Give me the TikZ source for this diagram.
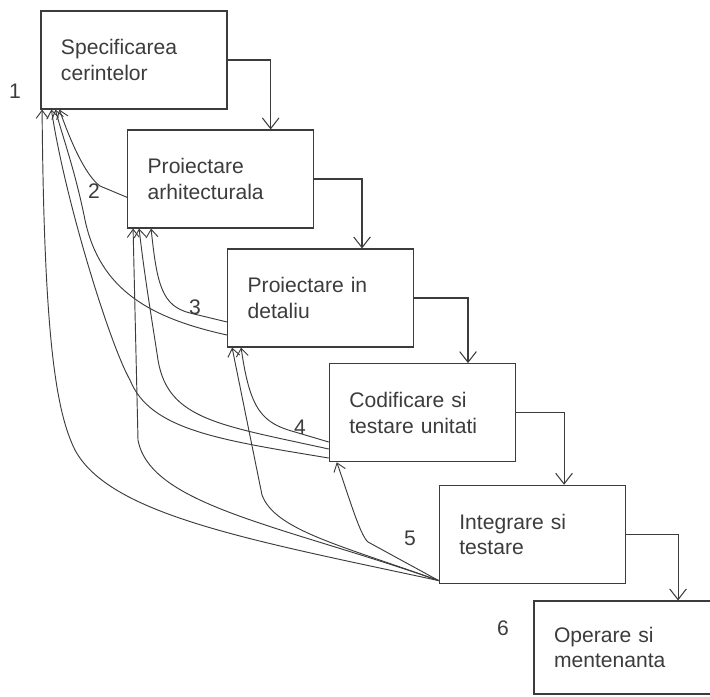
\documentclass[tikz,border=0pt]{standalone}
\usepackage{fontspec}
\setmainfont{Liberation Sans}
\usetikzlibrary{arrows.meta}
\definecolor{inkgray}{HTML}{3C3C3C}

\begin{document}
\begin{tikzpicture}[
            x=0.03cm, y=-0.03cm,
            node distance=3.57cm,
            box/.style={rectangle, draw=inkgray, line width=1pt,
                        minimum width=5.58cm, minimum height=2.94cm,
                        text width=4.38cm, inner xsep=0.6cm, align=left,
                        text=inkgray, font=\fontsize{18}{22}\selectfont},
            num/.style={text=inkgray, font=\fontsize{18}{22}\selectfont},
            arrow/.style={-{Straight Barb[length=3.2mm, width=5mm]}, line width=0.9pt, color=inkgray},
            back/.style={-{Straight Barb[length=2.4mm, width=3.6mm]}, line width=0.8pt, color=inkgray}
        ]
            \useasboundingbox (0,0) rectangle (710,696);
            \clip (0,0) rectangle (710,696);

            \node[box] (spec) at (134,60) {Specificarea\\cerintelor};
            \node[box, below of=spec, xshift=2.6cm] (arch) {Proiectare\\arhitecturala};
            \node[box, below of=arch, xshift=3cm] (detail) {Proiectare in\\detaliu};
            \node[box, below of=detail, xshift=3.05cm, yshift=0.13cm] (code) {Codificare si\\testare unitati};
            \node[box, below of=code, xshift=3.3cm, yshift=-0.08cm] (integ) {Integrare si\\testare};
            \node[box, below of=integ, xshift=3.3cm, yshift=0.175cm, minimum width=6.5cm,
                  text width=5.3cm, minimum height=2.79cm] (oper) {Operare si\\mentenanta};

            \node[num] (n1) at (15,91) {1};
            \node[num] (n2) at (94,191) {2};
            \node[num] (n3) at (195,307) {3};
            \node[num] (n4) at (300,427) {4};
            \node[num] (n5) at (410,538) {5};
            \node[num] (n6) at (503,628) {6};

            \draw[arrow] (spec.east) -| ([xshift=1.5cm]arch.north);
            \draw[arrow] (arch.east) -| ([xshift=1.24cm]detail.north);
            \draw[arrow] (detail.east) -| ([xshift=1.37cm]code.north);
            \draw[arrow] (code.east) -| ([xshift=0.95cm]integ.north);
            \draw[arrow] (integ.east) -| ([xshift=1.07cm]oper.north);

            \draw[back] ([yshift=-0.55cm]arch.west) -- (100,186) .. controls (85,175) and (70,140) .. ([xshift=0.57cm]spec.south west);
            \draw[back] ([yshift=-0.72cm]detail.west) -- (190,313) .. controls (162,306) and (157,285) .. ([xshift=0.72cm]arch.south west);
            \draw[back] ([yshift=-1.11cm]detail.west) .. controls (150,318) and (100,290) .. (85,220) .. controls (75,170) and (62,135) .. ([xshift=0.45cm]spec.south west);
            \draw[back] ([yshift=-0.88cm]code.west) -- (295,432) .. controls (262,423) and (250,410) .. ([xshift=0.42cm]detail.south west);
            \draw[back] ([yshift=-1.09cm]code.west) .. controls (220,425) and (168,420) .. (158,360) .. controls (152,320) and (145,280) .. ([xshift=0.36cm]arch.south west);
            \draw[back] ([yshift=-1.36cm]code.west) .. controls (220,440) and (150,430) .. (130,380) .. controls (110,345) and (65,200) .. ([xshift=0.33cm]spec.south west);
            \draw[back] ([yshift=0.1cm]integ.south west) -- (368,542) .. controls (360,535) and (350,500) .. ([xshift=0.24cm]code.south west);
            \draw[back] ([yshift=0.1cm]integ.south west) .. controls (340,545) and (275,530) .. (262,495) -- ([xshift=0.15cm]detail.south west);
            \draw[back] ([yshift=0.1cm]integ.south west) .. controls (280,525) and (150,505) .. (138,440) -- ([xshift=0.18cm]arch.south west);
            \draw[back] ([yshift=0.1cm]integ.south west) .. controls (250,540) and (110,515) .. (75,450) .. controls (55,410) and (44,330) .. ([xshift=0.05cm]spec.south west);
        \end{tikzpicture}
\end{document}
